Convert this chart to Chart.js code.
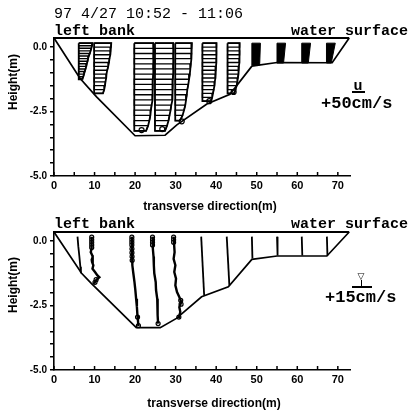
<!DOCTYPE html>
<html><head><meta charset="utf-8">
<script src="https://cdn.jsdelivr.net/npm/chart.js@4"></script>
<style>
html,body{margin:0;padding:0;background:#fff}
body{width:411px;height:410px;position:relative;overflow:hidden}
canvas{position:absolute;left:0}
.t{position:absolute;white-space:nowrap;color:#000;line-height:1}
.mono{font-family:"Liberation Mono",monospace}
.sans{font-family:"Liberation Sans",Arial,sans-serif}
.rot{transform:translate(-50%,-50%) rotate(-90deg)}
.ctr{transform:translateX(-50%)}
.ln{position:absolute;background:#000}
</style></head><body>
<canvas id="c1" width="411" height="215" style="top:0;width:411px;height:215px"></canvas>
<canvas id="c2" width="411" height="205" style="top:205px;width:411px;height:205px"></canvas>

<div class="t mono" style="left:54px;top:7px;font-size:15px">97 4/27 10:52 - 11:06</div>
<div class="t mono" style="left:54px;top:23.5px;font-size:15px;font-weight:bold">left bank</div>
<div class="t mono" style="left:291px;top:23.5px;font-size:15px;font-weight:bold">water surface</div>
<div class="t sans rot" style="left:13px;top:82px;font-size:12px;font-weight:bold">Height(m)</div>
<div class="t sans ctr" style="left:210px;top:200px;font-size:12px;font-weight:bold">transverse direction(m)</div>
<div class="t mono" style="left:353.5px;top:78.5px;font-size:15px;font-weight:bold">u</div>
<div class="ln" style="left:352px;top:91px;width:13px;height:1.5px"></div>
<div class="t mono" style="left:321px;top:95.3px;font-size:17px;font-weight:bold">+50cm/s</div>

<div class="t mono" style="left:54px;top:217px;font-size:15px;font-weight:bold">left bank</div>
<div class="t mono" style="left:291px;top:217px;font-size:15px;font-weight:bold">water surface</div>
<div class="t sans rot" style="left:13px;top:285px;font-size:12px;font-weight:bold">Height(m)</div>
<div class="t sans ctr" style="left:214px;top:397px;font-size:12px;font-weight:bold">transverse direction(m)</div>
<div class="t ctr" style="left:361px;top:272px;font-size:9px;font-weight:bold;font-family:'DejaVu Sans'">▽</div>
<div class="ln" style="left:360.5px;top:280px;width:1.2px;height:6px"></div>
<div class="ln" style="left:352px;top:286px;width:20px;height:1.5px"></div>
<div class="t mono" style="left:325px;top:289.3px;font-size:17px;font-weight:bold">+15cm/s</div>

<script>
// ---------- axes ----------
const xTicks = [0,5,10,15,20,25,30,35,40,45,50,55,60,65,70];
const xLabelVals = [0,10,20,30,40,50,60,70];
const yTicks = [-5,-4.5,-4,-3.5,-3,-2.5,-2,-1.5,-1,-0.5,0];
const yLabelVals = [0,-2.5,-5];
const yLabelText = ['0.0','-2.5','-5.0'];

// ---------- cross-section (bed and water surface) ----------
const surfX = [0, 72.8];
const surfZ = [0.35, 0.35];
const bedX1 = [0, 6.4, 10.5, 20.0, 27.4, 30.3, 37.7, 43.4, 48.8, 55.0, 68.6, 72.8];
const bedZ1 = [0.35, -1.21, -1.93, -3.44, -3.42, -3.02, -2.21, -1.83, -0.74, -0.60, -0.61, 0.35];
const bedX2 = [0, 6.8, 9.2, 20.3, 26.2, 30.2, 36.4, 43.0, 48.8, 55.0, 67.3, 72.8];
const bedZ2 = [0.35, -1.25, -1.64, -3.36, -3.36, -3.00, -2.16, -1.77, -0.71, -0.58, -0.58, 0.35];

// ---------- upper panel: streamwise velocity u (cm/s) ----------
const uScale = 0.062; // m of drawing per cm/s
const uStations = [6.1, 9.9, 19.8, 24.9, 29.9, 36.6, 42.8, 48.8, 55.0, 61.1, 67.2];
const uZ1 = [0.15,0.05,-0.05,-0.15,-0.25,-0.35,-0.45,-0.55,-0.65,-0.75,-0.85,-0.95,-1.05,-1.15,-1.25];
const u1  = [55,53,50,47,44,40,37,35,32,30,27,24,21,18,13];
const uZ2 = [0.15,0.0,-0.15,-0.3,-0.45,-0.6,-0.75,-0.9,-1.05,-1.2,-1.35,-1.5,-1.65,-1.8];
const u2  = [68,67,65,64,61,59,56,52,49,48,45,43,40,35];
const uZ3 = [0.15,-0.05,-0.25,-0.45,-0.65,-0.85,-1.05,-1.25,-1.45,-1.65,-1.85,-2.05,-2.25,-2.45,-2.65,-2.85,-3.05,-3.25];
const u3  = [76,76,76,76,76,75,75,74,74,73,73,71,69,66,64,60,55,47];
const uZ4 = [0.15,-0.05,-0.25,-0.45,-0.65,-0.85,-1.05,-1.25,-1.45,-1.65,-1.85,-2.05,-2.25,-2.45,-2.65,-2.85,-3.05,-3.25];
const u4  = [73,73,73,73,73,72,72,71,71,70,69,68,65,62,58,54,48,40];
const uZ5 = [0.15,-0.05,-0.25,-0.45,-0.65,-0.85,-1.05,-1.25,-1.45,-1.65,-1.85,-2.05,-2.25,-2.45,-2.65,-2.85];
const u5  = [66,65,65,63,62,60,58,55,52,48,46,43,40,35,29,19];
const uZ6 = [0.15,0.0,-0.15,-0.3,-0.45,-0.6,-0.75,-0.9,-1.05,-1.2,-1.35,-1.5,-1.65,-1.8,-1.95,-2.1];
const u6  = [56,56,56,56,55,55,54,53,52,51,49,48,45,42,39,34];
const uZ7 = [0.15,0.0,-0.15,-0.3,-0.45,-0.6,-0.75,-0.9,-1.05,-1.2,-1.35,-1.5,-1.65,-1.8];
const u7  = [48,48,48,48,47,46,45,44,43,41,39,36,32,26];
const uZ8 = [0.15,-0.70];  const u8  = [34,31];
const uZ9 = [0.15,-0.62];  const u9  = [34,26];
const uZ10 = [0.15,-0.62]; const u10 = [35,26];
const uZ11 = [0.15,-0.62]; const u11 = [35,19];
const uBottomX = [21.6, 26.7, 31.5, 38.3, 44.3];
const uBottomZ = [-3.22, -3.18, -2.88, -2.10, -1.74];

// ---------- lower panel: lateral velocity v (cm/s) ----------
const vScale = 0.27; // m of drawing per cm/s
const vStations = [5.8, 9.3, 19.2, 24.3, 29.5, 36.3, 42.6, 48.8, 55.0, 61.1, 67.3];
const vZ1 = [0.17,-0.2,-0.6,-1.0,-1.25];           const v1 = [0,0.7,1.7,2.6,3.1];
const vZ2 = [0.17,-0.1,-0.3,-0.43,-0.55,-0.62,-0.72,-0.81,-0.94,-1.07,-1.2,-1.33,-1.4,-1.52,-1.65];
const v2  = [0,0,-0.2,-0.9,0.4,0.9,0,0.3,1.5,0.7,3.0,5.2,7.0,4.0,2.1];
const vZ3 = [0.17,-0.3,-0.6,-0.94,-1.2,-1.59,-1.9,-2.24,-2.55,-2.88,-3.1,-3.3];
const v3  = [0,0.2,0.3,0.6,1.2,2.4,3.2,3.9,4.6,5.1,5.6,6.0];
const vZ4 = [0.17,-0.3,-0.6,-0.94,-1.25,-1.59,-1.9,-2.24,-2.55,-2.88,-3.2];
const v4  = [0,0.3,0.9,1.2,1.6,2.9,3.2,4.3,4.4,4.9,5.1];
const vZ5 = [0.17,-0.43,-0.69,-0.94,-1.2,-1.46,-1.72,-1.98,-2.17,-2.36,-2.56,-2.75,-3.0];
const v5  = [0,0.9,0,1.6,0.6,2.2,1.6,3.1,5.2,7.0,5.2,6.1,4.6];
const vZ6 = [0.17,-2.1];   const v6  = [0,2.7];
const vZ7 = [0.17,-1.72];  const v7  = [0,2.4];
const vZ8 = [0.17,-0.68];  const v8  = [0,0.5];
const vZ9 = [0.17,-0.56];  const v9  = [0,0.5];
const vZ10 = [0.17,-0.56]; const v10 = [0,0.5];
const vZ11 = [0.17,-0.56]; const v11 = [0,0.5];
// open-circle measurement points: station index, depth, v
const circSt = [1,1,1,1,1,1,1, 2,2,2,2,2,2,2,2,2,2, 3,3,3,3,3, 4,4,4,4,4,4];
const circZ  = [0.15,0.05,-0.05,-0.15,-0.25,-1.5,-1.6, 0.15,0.05,-0.05,-0.15,-0.3,-0.45,-0.6,-0.75,-2.95,-3.28, 0.15,0.05,-0.05,-0.15,-3.2, 0.15,0.05,-0.05,-2.3,-2.45,-2.95];
const circV  = [0,0,0,0,0,4.0,3.0, 0,0,0,0,0.1,0.1,0.2,0.3,5.2,6.0, 0,0,0,0,5.1, 0,0,0,6.5,6.8,4.8];

// ---------- helpers ----------
const pts = (xs, ys) => xs.map((x, i) => ({x, y: ys[i]}));
function ladder(s, z, u){
  const out = [];
  z.forEach((zz, i) => {
    const a = {x: s, y: zz}, b = {x: s + u[i]*uScale, y: zz};
    if (i % 2 === 0) out.push(a, b); else out.push(b, a);
  });
  return out;
}
function outline(s, z, u){
  const out = [{x: s, y: z[0]}];
  z.forEach((zz, i) => out.push({x: s + u[i]*uScale, y: zz}));
  out.push({x: s, y: z[z.length-1]});
  out.push({x: s, y: z[0]});
  return out;
}
const line = (data, w, extra) => Object.assign({data, borderColor:'#000', borderWidth:w, pointRadius:0, fill:false, tension:0}, extra||{});

const inTicks = {
  id: 'inTicks',
  afterDraw(chart){
    const xs = chart.scales.x, ys = chart.scales.y, ctx = chart.ctx;
    ctx.save(); ctx.strokeStyle = '#000'; ctx.lineWidth = 1.5;
    xTicks.forEach(v => {
      const px = xs.getPixelForValue(v);
      ctx.beginPath(); ctx.moveTo(px, ys.bottom); ctx.lineTo(px, ys.bottom - 4); ctx.stroke();
    });
    ctx.restore();
  }
};

function makeOptions(padTop, xAxisH){
  return {
    responsive:false, animation:false, devicePixelRatio:1,
    layout:{padding:{top:padTop, left:0, right:61, bottom:0}},
    plugins:{legend:{display:false}, tooltip:{enabled:false}},
    elements:{point:{radius:0}, line:{tension:0}},
    scales:{
      x:{type:'linear', min:0, max:73,
         afterBuildTicks: s => { s.ticks = xTicks.map(v => ({value:v})); },
         afterFit: s => { s.height = xAxisH; },
         grid:{display:false, drawTicks:false},
         border:{display:true, color:'#000', width:1.6},
         ticks:{padding:3, color:'#000', maxRotation:0, autoSkip:false,
                font:{size:11, weight:'bold', family:'Liberation Sans'},
                callback: v => xLabelVals.includes(v) ? String(v) : ''}},
      y:{type:'linear', min:-5, max:0.35,
         afterBuildTicks: s => { s.ticks = yTicks.map(v => ({value:v})); },
         afterFit: s => { s.width = 54; },
         grid:{display:true, drawOnChartArea:false, drawTicks:true, tickLength:4, color:'#000', lineWidth:1.5},
         border:{display:true, color:'#000', width:1.6},
         ticks:{padding:3, color:'#000', autoSkip:false,
                font:{size:10, weight:'bold', family:'Liberation Sans'},
                callback: v => { const k = yLabelVals.indexOf(v); return k >= 0 ? yLabelText[k] : ''; }}}
    }
  };
}

// ---------- upper chart ----------
const uZ = [uZ1,uZ2,uZ3,uZ4,uZ5,uZ6,uZ7,uZ8,uZ9,uZ10,uZ11];
const uV = [u1,u2,u3,u4,u5,u6,u7,u8,u9,u10,u11];
const ds1 = [
  line(pts(surfX, surfZ), 2.2, {clip:false}),
  line(pts(bedX1, bedZ1), 1.7, {clip:false})
];
uStations.forEach((s, i) => {
  if (uZ[i].length > 2) {
    ds1.push(line(ladder(s, uZ[i], uV[i]), i === 0 ? 1.4 : 1.3));
    ds1.push(line(outline(s, uZ[i], uV[i]), 1.8));
  } else {
    ds1.push(line(outline(s, uZ[i], uV[i]), 1, {fill:'shape', backgroundColor:'#000'}));
  }
});
ds1.push({data: pts(uBottomX, uBottomZ), showLine:false, pointRadius:2.5, pointBorderWidth:1.2,
          pointBorderColor:'#000', pointBackgroundColor:'#fff', borderColor:'#000'});
new Chart(document.getElementById('c1'), {type:'line', data:{datasets:ds1}, options:makeOptions(38, 39), plugins:[inTicks]});

// ---------- lower chart ----------
const vZ = [vZ1,vZ2,vZ3,vZ4,vZ5,vZ6,vZ7,vZ8,vZ9,vZ10,vZ11];
const vV = [v1,v2,v3,v4,v5,v6,v7,v8,v9,v10,v11];
const ds2 = [
  line(pts(surfX, surfZ), 2.2, {clip:false}),
  line(pts(bedX2, bedZ2), 1.7, {clip:false})
];
vStations.forEach((s, i) => {
  ds2.push(line(vZ[i].map((z, k) => ({x: s + vV[i][k]*vScale, y: z})), (i >= 1 && i <= 4) ? 2.4 : 1.8));
});
ds2.push({data: circSt.map((st, k) => ({x: vStations[st] + circV[k]*vScale, y: circZ[k]})),
          showLine:false, pointRadius:2, pointBorderWidth:1.2, pointBorderColor:'#000',
          pointBackgroundColor:'#fff', borderColor:'#000'});
new Chart(document.getElementById('c2'), {type:'line', data:{datasets:ds2}, options:makeOptions(27, 40), plugins:[inTicks]});
</script>
</body></html>
